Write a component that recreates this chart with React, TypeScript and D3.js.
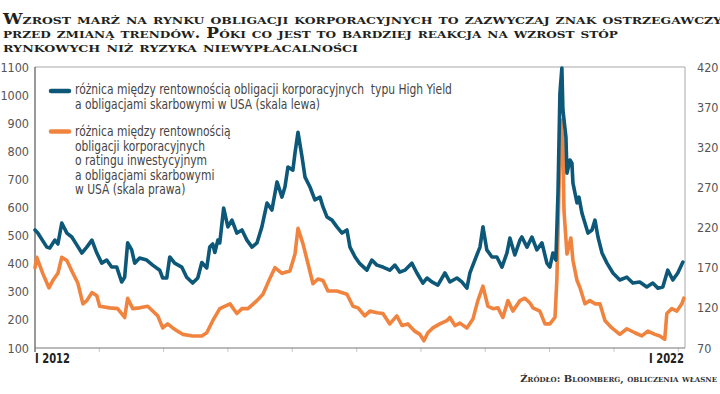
import * as d3 from "d3";

// tytuł i podpisy
const titleLines = [
  "Wzrost marż na rynku obligacji korporacyjnych to zazwyczaj znak ostrzegawczy",
  "przed zmianą trendów. Póki co jest to bardziej reakcja na wzrost stóp",
  "rynkowych niż ryzyka niewypłacalności",
];
const sourceText = "Źródło: Bloomberg, obliczenia własne";
const legendHY = [
  "różnica między rentownością obligacji korporacyjnych  typu High Yield",
  "a obligacjami skarbowymi w USA (skala lewa)",
];
const legendIG = [
  "różnica między rentownością",
  "obligacji korporacyjnych",
  "o ratingu inwestycyjnym",
  "a obligacjami skarbowymi",
  "w USA (skala prawa)",
];
const leftTicks = [100, 200, 300, 400, 500, 600, 700, 800, 900, 1000, 1100];
const rightTicks = [70, 120, 170, 220, 270, 320, 370, 420];
const yearTicks = ["2013", "2014", "2015", "2016", "2017", "2018", "2019", "2020", "2021", "2022"];
const xStart = "2012-01-02";
const xEnd = "2022-02-08";
const startLabel = "I 2012";
const endLabel = "I 2022";

// spread High Yield (skala lewa)
const hyDates = [
  "2012-01-02", "2012-01-18", "2012-03-09", "2012-03-26", "2012-04-24", "2012-05-11", "2012-06-02",
  "2012-07-01", "2012-07-29", "2012-08-27", "2012-09-24", "2012-10-22", "2012-11-20", "2012-12-18",
  "2013-01-15", "2013-02-12", "2013-03-12", "2013-04-10", "2013-05-08", "2013-05-25", "2013-06-11",
  "2013-07-04", "2013-07-21", "2013-08-18", "2013-09-27", "2013-10-31", "2013-12-10", "2013-12-27",
  "2014-01-19", "2014-02-05", "2014-03-05", "2014-04-14", "2014-05-12", "2014-06-15", "2014-07-14",
  "2014-08-06", "2014-09-03", "2014-09-20", "2014-10-07", "2014-10-19", "2014-11-05", "2014-11-16",
  "2014-12-08", "2015-01-01", "2015-01-24", "2015-02-21", "2015-03-22", "2015-04-19", "2015-05-18",
  "2015-06-15", "2015-07-13", "2015-08-11", "2015-09-08", "2015-10-07", "2015-11-04", "2015-11-21",
  "2015-12-08", "2016-01-05", "2016-01-17", "2016-02-03", "2016-02-26", "2016-03-14", "2016-04-11",
  "2016-05-09", "2016-06-07", "2016-06-24", "2016-07-17", "2016-08-14", "2016-09-11", "2016-10-10",
  "2016-11-07", "2016-11-24", "2016-12-23", "2017-01-19", "2017-02-28", "2017-03-28", "2017-04-26",
  "2017-05-30", "2017-07-08", "2017-08-06", "2017-09-03", "2017-10-02", "2017-11-10", "2017-12-09",
  "2018-01-12", "2018-02-04", "2018-03-04", "2018-04-07", "2018-05-17", "2018-06-14", "2018-07-24",
  "2018-08-21", "2018-09-19", "2018-10-06", "2018-11-03", "2018-12-02", "2018-12-19", "2019-01-10",
  "2019-02-08", "2019-03-08", "2019-04-06", "2019-05-04", "2019-05-21", "2019-06-18", "2019-07-17",
  "2019-07-28", "2019-08-26", "2019-09-23", "2019-10-21", "2019-11-19", "2019-12-17", "2020-01-03",
  "2020-01-20", "2020-02-06", "2020-02-18", "2020-02-29", "2020-03-11", "2020-03-17", "2020-04-03",
  "2020-04-09", "2020-04-26", "2020-05-07", "2020-05-13", "2020-06-05", "2020-06-16", "2020-07-03",
  "2020-07-20", "2020-08-06", "2020-08-29", "2020-09-15", "2020-10-02", "2020-10-25", "2020-11-22",
  "2020-12-26", "2021-02-03", "2021-03-15", "2021-04-18", "2021-05-27", "2021-07-06", "2021-08-09",
  "2021-09-07", "2021-10-05", "2021-11-02", "2021-12-01", "2021-12-29", "2022-01-27",
];
const hyValues = [
  520, 509, 459, 456, 484, 470, 545,
  509, 495, 466, 438, 459, 484, 438,
  402, 413, 388, 388, 335, 352, 474,
  449, 402, 420, 413, 395, 377, 349,
  349, 424, 402, 388, 352, 331, 349,
  404, 385, 459, 470, 440, 484, 474,
  598, 531, 555, 509, 520, 484, 459,
  474, 531, 616, 591, 691, 637, 673,
  744, 733, 794, 868, 780, 708, 673,
  627, 637, 602, 566, 555, 531, 509,
  520, 459, 424, 400, 377, 413, 395,
  388, 377, 395, 370, 377, 402, 367,
  331, 349, 335, 324, 367, 335, 349,
  335, 313, 367, 413, 459, 531, 449,
  424, 424, 388, 438, 491, 431, 484,
  495, 459, 495, 449, 474, 402, 388,
  438, 413, 651, 1007, 1096, 947, 851,
  722, 769, 758, 687, 616, 637, 580,
  545, 509, 520, 555, 495, 438, 402,
  367, 342, 352, 331, 335, 317, 331,
  313, 317, 377, 342, 367, 406,
];

// spread investment grade (skala prawa)
const igDates = [
  "2012-01-02", "2012-01-12", "2012-02-15", "2012-03-21", "2012-04-12", "2012-05-11", "2012-06-02",
  "2012-07-01", "2012-07-29", "2012-09-01", "2012-09-30", "2012-10-22", "2012-11-20", "2012-12-18",
  "2013-01-03", "2013-03-01", "2013-04-15", "2013-05-25", "2013-06-11", "2013-07-10", "2013-08-18",
  "2013-10-03", "2013-10-31", "2013-11-29", "2013-12-27", "2014-01-24", "2014-02-22", "2014-03-22",
  "2014-04-20", "2014-06-15", "2014-08-06", "2014-09-03", "2014-10-07", "2014-11-16", "2015-01-13",
  "2015-02-21", "2015-03-22", "2015-04-25", "2015-06-15", "2015-07-19", "2015-08-28", "2015-09-25",
  "2015-11-04", "2015-12-19", "2016-01-17", "2016-02-03", "2016-03-02", "2016-03-31", "2016-04-28",
  "2016-05-26", "2016-06-24", "2016-07-22", "2016-09-11", "2016-11-07", "2016-12-11", "2017-01-09",
  "2017-02-16", "2017-03-17", "2017-04-26", "2017-05-30", "2017-07-08", "2017-08-17", "2017-09-15",
  "2017-10-19", "2017-11-27", "2017-12-26", "2018-01-18", "2018-02-09", "2018-03-10", "2018-04-18",
  "2018-05-28", "2018-06-14", "2018-07-13", "2018-08-10", "2018-09-19", "2018-10-23", "2018-11-20",
  "2018-12-19", "2019-01-16", "2019-02-13", "2019-03-14", "2019-04-11", "2019-05-10", "2019-06-07",
  "2019-07-17", "2019-08-14", "2019-09-12", "2019-09-29", "2019-11-07", "2019-12-06", "2020-01-03",
  "2020-02-01", "2020-02-12", "2020-02-23", "2020-03-06", "2020-03-17", "2020-03-23", "2020-04-09",
  "2020-05-01", "2020-05-13", "2020-06-05", "2020-06-22", "2020-07-20", "2020-08-17", "2020-09-15",
  "2020-10-13", "2020-11-11", "2020-12-20", "2021-02-03", "2021-03-15", "2021-04-29", "2021-06-08",
  "2021-07-12", "2021-08-21", "2021-09-18", "2021-10-16", "2021-10-28", "2021-11-25", "2021-12-24",
  "2022-01-21", "2022-02-01",
];
const igValues = [
  170, 183, 163, 145, 154, 163, 183,
  179, 166, 151, 125, 129, 139, 135,
  122, 120, 119, 108, 132, 119, 120,
  122, 116, 110, 95, 100, 95, 91,
  87, 85, 85, 89, 104, 119, 125,
  113, 119, 119, 129, 137, 157, 170,
  163, 166, 187, 219, 200, 175, 150,
  156, 154, 141, 141, 137, 122, 120,
  110, 116, 114, 113, 100, 110, 98,
  100, 91, 87, 79, 89, 95, 100,
  104, 108, 98, 101, 95, 106, 129,
  147, 122, 119, 120, 108, 129, 116,
  129, 132, 126, 120, 116, 100, 100,
  108, 157, 262, 354, 325, 241, 187,
  207, 179, 154, 145, 125, 129, 125,
  125, 104, 95, 87, 94, 89, 85,
  91, 87, 85, 81, 113, 119, 116,
  125, 132,
];

const W = 720;
const H = 394;
const plot = { left: 35, right: 685, top: 67, bottom: 348 };
const BLUE = "#0d5878";
const ORANGE = "#f0843f";
const narrow = "'Liberation Sans Narrow', 'DejaVu Sans Condensed', 'Roboto', sans-serif";
const serif = "'DejaVu Serif', 'Liberation Serif', serif";

// szerokości linii tytułu w oryginale
const titleWidths = [719, 615, 355];
const titleBase = [24.3, 38.3, 51.8];

const parse = d3.timeParse("%Y-%m-%d");

export default function App() {
  const x = d3.scaleTime()
    .domain([parse(xStart)!, parse(xEnd)!])
    .range([plot.left, plot.right]);
  const yL = d3.scaleLinear().domain([100, 1100]).range([plot.bottom, plot.top]);
  const yR = d3.scaleLinear().domain([70, 420]).range([plot.bottom, plot.top]);

  const hy = hyDates.map((d, i) => ({ date: parse(d)!, v: hyValues[i] }));
  const ig = igDates.map((d, i) => ({ date: parse(d)!, v: igValues[i] }));

  const lineL = d3.line<{ date: Date; v: number }>().x(d => x(d.date)).y(d => yL(d.v));
  const lineR = d3.line<{ date: Date; v: number }>().x(d => x(d.date)).y(d => yR(d.v));

  return (
    <div style={{ position: "absolute", left: 0, top: 0, background: "#fff" }}>
      <svg width={W} height={H} style={{ display: "block" }}>
        <rect width={W} height={H} fill="#fff" />

        {/* tytuł */}
        {titleLines.map((t, i) => (
          <text key={i} x={3} y={titleBase[i]} fontFamily={serif} fontWeight="bold"
            fontSize={14} fill="#231f20" textLength={titleWidths[i]} lengthAdjust="spacingAndGlyphs"
            style={{ fontVariant: "small-caps" }}>
            {t}
          </text>
        ))}

        {/* ramka */}
        <line x1={plot.left} x2={plot.right} y1={plot.top} y2={plot.top} stroke="#a8a8a8" />
        <line x1={plot.right} x2={plot.right} y1={plot.top} y2={plot.bottom} stroke="#a8a8a8" />

        {/* podziałka lat */}
        {yearTicks.map(yr => {
          const px = x(parse(yr + "-01-01")!);
          return <line key={yr} x1={px} x2={px} y1={plot.bottom} y2={plot.bottom + 4} stroke="#c8c8c8" />;
        })}

        {/* osie */}
        <line x1={plot.left} x2={plot.left} y1={plot.top} y2={plot.bottom + 4} stroke="#555" strokeWidth={1.2} />
        <line x1={plot.left} x2={plot.right} y1={plot.bottom} y2={plot.bottom} stroke="#777" strokeWidth={1.2} />

        {leftTicks.map(t => (
          <text key={t} x={29} y={yL(t) + 4.5} textAnchor="end" fontFamily={narrow}
            fontSize={12.5} fill="#555">{t}</text>
        ))}
        {rightTicks.map(t => (
          <text key={t} x={697} y={yR(t) + 4.5} fontFamily={narrow}
            fontSize={12.5} fill="#555">{t}</text>
        ))}

        <text x={35} y={362.5} fontFamily={narrow} fontSize={13.5} fontWeight={600} fill="#222"
          textLength={35} lengthAdjust="spacingAndGlyphs">{startLabel}</text>
        <text x={649} y={362.5} fontFamily={narrow} fontSize={13.5} fontWeight={600} fill="#222"
          textLength={35} lengthAdjust="spacingAndGlyphs">{endLabel}</text>

        {/* serie */}
        <path d={lineR(ig) ?? ""} fill="none" stroke={ORANGE} strokeWidth={3.6}
          strokeLinejoin="round" strokeLinecap="round" />
        <path d={lineL(hy) ?? ""} fill="none" stroke={BLUE} strokeWidth={3.6}
          strokeLinejoin="round" strokeLinecap="round" />

        {/* legenda */}
        <line x1={51} x2={69} y1={91} y2={91} stroke={BLUE} strokeWidth={4.5} strokeLinecap="round" />
        <g transform="translate(75,0) scale(0.89,1)">
          {legendHY.map((t, i) => (
            <text key={i} x={0} y={94.5 + i * 14.2} fontFamily={narrow} fontSize={13.4} fill="#444"
              style={{ whiteSpace: "pre" }}>{t}</text>
          ))}
        </g>
        <line x1={51} x2={69} y1={131.5} y2={131.5} stroke={ORANGE} strokeWidth={4.5} strokeLinecap="round" />
        <g transform="translate(75,0) scale(0.89,1)">
          {legendIG.map((t, i) => (
            <text key={i} x={0} y={136 + i * 14.6} fontFamily={narrow} fontSize={13.4} fill="#444">{t}</text>
          ))}
        </g>

        {/* źródło */}
        <text x={717} y={382} textAnchor="end" fontFamily={serif} fontWeight="bold" fontSize={10}
          fill="#333" style={{ fontVariant: "small-caps" }}>{sourceText}</text>
      </svg>
    </div>
  );
}
